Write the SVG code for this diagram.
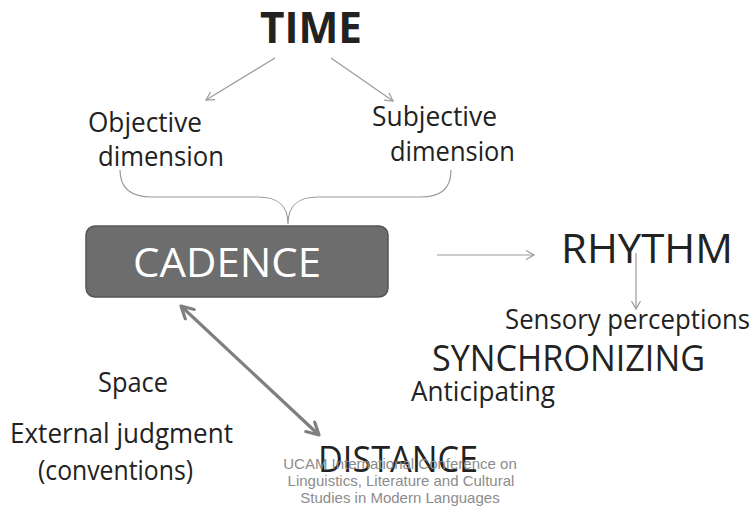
<svg xmlns="http://www.w3.org/2000/svg" width="754" height="507" viewBox="0 0 754 507">
<style>
.t{font-family:"Open Sans","Noto Sans",sans-serif;fill:#222}
.lbl{font-size:27px}
.big{font-size:40px}
.thin{stroke:#9a9a9a;stroke-width:1.2;fill:none}
.wm{font-family:"Liberation Sans",Arial,sans-serif;font-size:15px;fill:#8c8c8c;text-anchor:middle}
</style>
<defs>
<marker id="open" markerWidth="12" markerHeight="12" refX="9" refY="5" orient="auto" markerUnits="userSpaceOnUse">
<path d="M1,0.5 L9,5 L1,9.5" fill="none" stroke="#9a9a9a" stroke-width="1.2"/>
</marker>
<marker id="thick" markerWidth="20" markerHeight="20" refX="14" refY="8" orient="auto-start-reverse" markerUnits="userSpaceOnUse">
<path d="M2,1.5 L14,8 L2,14.5" fill="none" stroke="#7f7f7f" stroke-width="3.2" stroke-linejoin="round" stroke-linecap="round"/>
</marker>
</defs>
<g id="connectors">
<line class="thin" x1="275" y1="58" x2="206" y2="100" marker-end="url(#open)"/>
<line class="thin" x1="331" y1="58" x2="393" y2="101" marker-end="url(#open)"/>
<path class="thin" d="M120,170 C120,188 130,197 152,197 L258,197 C278,197 288,205 288,224 C288,205 298,197 318,197 L420,197 C442,197 451,188 451,170"/>
<line class="thin" x1="437" y1="255" x2="534" y2="255" marker-end="url(#open)"/>
<line class="thin" x1="636" y1="253" x2="636" y2="309" marker-end="url(#open)"/>
<line x1="181" y1="306" x2="319" y2="435" stroke="#7f7f7f" stroke-width="3.2" marker-start="url(#thick)" marker-end="url(#thick)"/>
</g>
<g id="time"><text class="t" x="260" y="43" font-size="43" font-weight="bold" textLength="102" lengthAdjust="spacingAndGlyphs">TIME</text></g>
<g id="objective">
<text class="t lbl" x="88" y="132" textLength="114" lengthAdjust="spacingAndGlyphs">Objective</text>
<text class="t lbl" x="98" y="166" textLength="126" lengthAdjust="spacingAndGlyphs">dimension</text>
</g>
<g id="subjective">
<text class="t lbl" x="372" y="126" textLength="125" lengthAdjust="spacingAndGlyphs">Subjective</text>
<text class="t lbl" x="390" y="161" textLength="125" lengthAdjust="spacingAndGlyphs">dimension</text>
</g>
<g id="cadence">
<rect x="86" y="226" width="302" height="71" rx="9" fill="#6d6d6d" stroke="#555" stroke-width="1.5"/>
<text class="t big" x="133" y="277" style="fill:#fff" textLength="188" lengthAdjust="spacingAndGlyphs">CADENCE</text>
</g>
<g id="rhythm"><text class="t big" x="561" y="263" textLength="172" lengthAdjust="spacingAndGlyphs">RHYTHM</text></g>
<g id="sensory"><text class="t lbl" x="505" y="329" textLength="245" lengthAdjust="spacingAndGlyphs">Sensory perceptions</text></g>
<g id="synchronizing"><text class="t" x="432" y="371" font-size="36" textLength="273" lengthAdjust="spacingAndGlyphs">SYNCHRONIZING</text></g>
<g id="anticipating"><text class="t lbl" x="411" y="401" textLength="144" lengthAdjust="spacingAndGlyphs">Anticipating</text></g>
<g id="space"><text class="t lbl" x="98" y="392" textLength="70" lengthAdjust="spacingAndGlyphs">Space</text></g>
<g id="external">
<text class="t lbl" x="10" y="443" textLength="223" lengthAdjust="spacingAndGlyphs">External judgment</text>
<text class="t lbl" x="38" y="480" textLength="155" lengthAdjust="spacingAndGlyphs">(conventions)</text>
</g>
<g id="distance"><text class="t" x="318" y="472" font-size="36" textLength="160" lengthAdjust="spacingAndGlyphs">DISTANCE</text></g>
<g id="watermark">
<text class="wm" x="400" y="469">UCAM International Conference on</text>
<text class="wm" x="401" y="486">Linguistics, Literature and Cultural</text>
<text class="wm" x="400" y="503">Studies in Modern Languages</text>
</g>
</svg>
